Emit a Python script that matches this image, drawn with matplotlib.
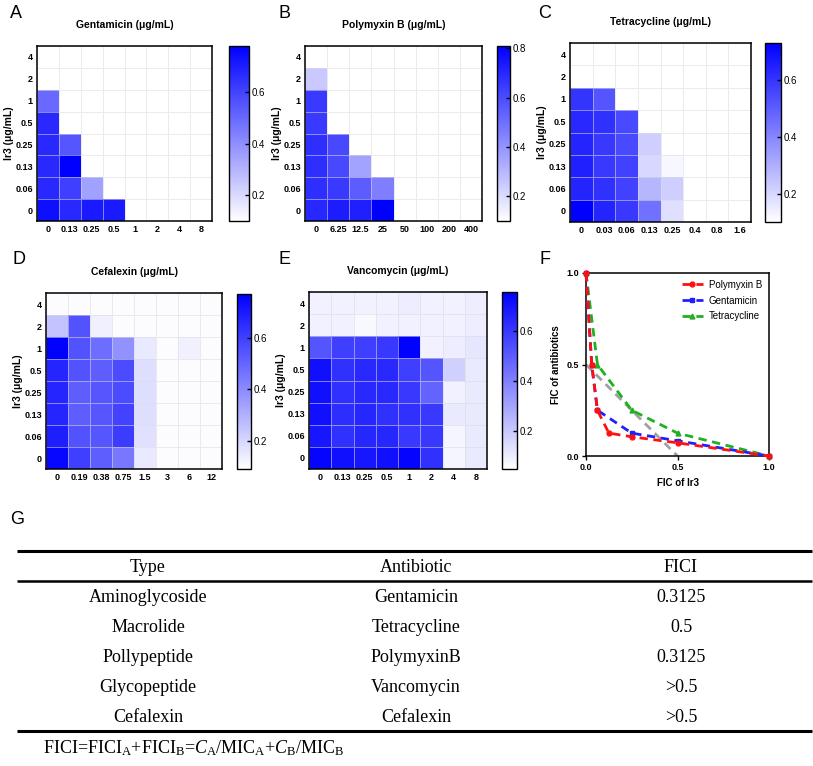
import numpy as np
import matplotlib
matplotlib.use("Agg")
import matplotlib.pyplot as plt
from matplotlib.colors import LinearSegmentedColormap

plt.rcParams['font.family'] = ['Liberation Sans', 'DejaVu Sans']
plt.rcParams['mathtext.fontset'] = 'custom'
plt.rcParams['mathtext.rm'] = 'Liberation Serif'
plt.rcParams['mathtext.it'] = 'Liberation Serif:italic'

W, H = 813, 766

# ---- checkerboard data (rows: Ir3 from 4 down to 0) ----
ir3_labels = ["4", "2", "1", "0.5", "0.25", "0.13", "0.06", "0"]

gent_labels = ["0", "0.13", "0.25", "0.5", "1", "2", "4", "8"]
gent = [
    [0.10, 0.10, 0.10, 0.10, 0.10, 0.10, 0.10, 0.10],
    [0.10, 0.10, 0.10, 0.10, 0.10, 0.10, 0.10, 0.10],
    [0.50, 0.10, 0.10, 0.10, 0.10, 0.10, 0.10, 0.10],
    [0.67, 0.10, 0.10, 0.10, 0.10, 0.10, 0.10, 0.10],
    [0.67, 0.55, 0.10, 0.10, 0.10, 0.10, 0.10, 0.10],
    [0.67, 0.78, 0.10, 0.10, 0.10, 0.10, 0.10, 0.10],
    [0.67, 0.61, 0.35, 0.10, 0.10, 0.10, 0.10, 0.10],
    [0.74, 0.67, 0.71, 0.71, 0.10, 0.10, 0.10, 0.10],
]

poly_labels = ["0", "6.25", "12.5", "25", "50", "100", "200", "400"]
poly = [
    [0.10, 0.10, 0.10, 0.10, 0.10, 0.10, 0.10, 0.10],
    [0.25, 0.10, 0.10, 0.10, 0.10, 0.10, 0.10, 0.10],
    [0.65, 0.10, 0.10, 0.10, 0.10, 0.10, 0.10, 0.10],
    [0.65, 0.10, 0.10, 0.10, 0.10, 0.10, 0.10, 0.10],
    [0.68, 0.61, 0.10, 0.10, 0.10, 0.10, 0.10, 0.10],
    [0.68, 0.61, 0.36, 0.10, 0.10, 0.10, 0.10, 0.10],
    [0.68, 0.65, 0.55, 0.46, 0.10, 0.10, 0.10, 0.10],
    [0.70, 0.73, 0.72, 0.81, 0.10, 0.10, 0.10, 0.10],
]

tetra_labels = ["0", "0.03", "0.06", "0.13", "0.25", "0.4", "0.8", "1.6"]
tetra = [
    [0.10, 0.10, 0.10, 0.10, 0.10, 0.10, 0.10, 0.10],
    [0.10, 0.10, 0.10, 0.10, 0.10, 0.10, 0.10, 0.10],
    [0.60, 0.52, 0.10, 0.10, 0.10, 0.10, 0.10, 0.10],
    [0.63, 0.61, 0.55, 0.10, 0.10, 0.10, 0.10, 0.10],
    [0.64, 0.59, 0.55, 0.22, 0.10, 0.10, 0.10, 0.10],
    [0.65, 0.59, 0.57, 0.20, 0.12, 0.10, 0.10, 0.10],
    [0.64, 0.61, 0.57, 0.28, 0.22, 0.10, 0.10, 0.10],
    [0.73, 0.64, 0.59, 0.45, 0.18, 0.10, 0.10, 0.10],
]

cefa_labels = ["0", "0.19", "0.38", "0.75", "1.5", "3", "6", "12"]
cefa = [
    [0.10, 0.10, 0.10, 0.10, 0.10, 0.10, 0.10, 0.10],
    [0.25, 0.55, 0.13, 0.10, 0.10, 0.10, 0.10, 0.10],
    [0.77, 0.55, 0.48, 0.38, 0.15, 0.10, 0.13, 0.10],
    [0.67, 0.55, 0.52, 0.57, 0.18, 0.10, 0.10, 0.10],
    [0.67, 0.52, 0.54, 0.57, 0.18, 0.10, 0.10, 0.10],
    [0.67, 0.52, 0.54, 0.59, 0.18, 0.10, 0.10, 0.10],
    [0.69, 0.55, 0.54, 0.61, 0.17, 0.10, 0.10, 0.10],
    [0.75, 0.60, 0.52, 0.45, 0.15, 0.10, 0.10, 0.10],
]

vanc_labels = ["0", "0.13", "0.25", "0.5", "1", "2", "4", "8"]
vanc = [
    [0.09, 0.09, 0.09, 0.09, 0.10, 0.09, 0.09, 0.10],
    [0.09, 0.09, 0.07, 0.09, 0.09, 0.09, 0.09, 0.10],
    [0.52, 0.58, 0.58, 0.60, 0.75, 0.09, 0.10, 0.12],
    [0.71, 0.62, 0.64, 0.64, 0.58, 0.52, 0.18, 0.11],
    [0.71, 0.62, 0.64, 0.64, 0.60, 0.48, 0.09, 0.11],
    [0.71, 0.63, 0.65, 0.62, 0.62, 0.60, 0.11, 0.11],
    [0.69, 0.62, 0.65, 0.65, 0.60, 0.60, 0.08, 0.11],
    [0.74, 0.71, 0.69, 0.71, 0.74, 0.62, 0.08, 0.11],
]

# ---- FIC isobologram ----
poly_fic_x = [0, 0.03125, 0.0625, 0.125, 0.25, 0.5, 1.0]
poly_fic_y = [1.0, 0.5, 0.25, 0.125, 0.105, 0.072, 0.0]
gent_fic_x = [0, 0.03125, 0.0625, 0.25, 0.5, 1.0]
gent_fic_y = [1.0, 0.5, 0.25, 0.125, 0.083, 0.0]
tetra_fic_x = [0, 0.0625, 0.25, 0.5, 1.0]
tetra_fic_y = [1.0, 0.5, 0.25, 0.125, 0.0]
additive_x = [0, 0.5]
additive_y = [0.5, 0.0]

# ---- table ----
table_header = ["Type", "Antibiotic", "FICI"]
table_types = ["Aminoglycoside", "Macrolide", "Pollypeptide", "Glycopeptide", "Cefalexin"]
table_abx = ["Gentamicin", "Tetracycline", "PolymyxinB", "Vancomycin", "Cefalexin"]
table_fici = ["0.3125", "0.5", "0.3125", ">0.5", ">0.5"]

cmap = LinearSegmentedColormap.from_list("wb", ["#ffffff", "#0000ff"])


def box(x0, y0, x1, y1):
    return [x0 / W, 1 - y1 / H, (x1 - x0) / W, (y1 - y0) / H]


def heatmap(fig, axbox, cbox, data, xlabels, title, vmin, vmax, ticks):
    ax = fig.add_axes(box(*axbox))
    cax = fig.add_axes(box(*cbox))
    m = ax.pcolormesh(np.array(data), cmap=cmap, vmin=vmin, vmax=vmax,
                      edgecolors=(0.86, 0.86, 0.88, 0.55), linewidth=0.6)
    ax.set_xlim(0, 8)
    ax.set_ylim(8, 0)
    ax.set_xticks(np.arange(8) + 0.5, xlabels)
    ax.set_yticks(np.arange(8) + 0.5, ir3_labels)
    ax.tick_params(length=0, pad=3, labelsize=6.5)
    for lab in ax.get_xticklabels() + ax.get_yticklabels():
        lab.set_fontweight("bold")
    for s in ax.spines.values():
        s.set_linewidth(1.1)
    ax.set_ylabel("Ir3 (μg/mL)", fontsize=7.5, fontweight="bold", labelpad=1)
    ax.set_title(title, fontsize=7.5, fontweight="bold", pad=13)
    cb = fig.colorbar(m, cax=cax, ticks=ticks)
    cb.outline.set_linewidth(1)
    cax.tick_params(direction="in", length=3, width=1, labelsize=7, pad=2)
    return ax


fig = plt.figure(figsize=(W / 100, H / 100), dpi=100)

heatmap(fig, (37, 46, 212, 221), (229, 46, 249, 221), gent, gent_labels,
        "Gentamicin (μg/mL)", 0.1, 0.78, [0.2, 0.4, 0.6])
heatmap(fig, (305, 46, 482, 221), (497, 46, 510, 221), poly, poly_labels,
        "Polymyxin B (μg/mL)", 0.1, 0.81, [0.2, 0.4, 0.6, 0.8])
heatmap(fig, (570, 43, 751, 222), (765, 43, 781, 222), tetra, tetra_labels,
        "Tetracycline (μg/mL)", 0.1, 0.73, [0.2, 0.4, 0.6])
heatmap(fig, (46, 293, 222, 469), (237, 294, 251, 469), cefa, cefa_labels,
        "Cefalexin (μg/mL)", 0.09, 0.77, [0.2, 0.4, 0.6])
heatmap(fig, (309, 292, 487, 469), (502, 292, 517, 469), vanc, vanc_labels,
        "Vancomycin (μg/mL)", 0.05, 0.755, [0.2, 0.4, 0.6])

# ---- panel F ----
axf = fig.add_axes(box(586, 273, 769, 456))
axf.plot(additive_x, additive_y, color="#a0a0a0", lw=2, ls=(0, (3, 2)))
axf.plot(poly_fic_x, poly_fic_y, color="#ff1010", lw=2, ls=(0, (3, 2)),
         marker="o", ms=3.5, clip_on=False, label="Polymyxin B", zorder=4)
axf.plot(gent_fic_x, gent_fic_y, color="#2020ff", lw=2, ls=(0, (3, 2)),
         marker="s", ms=3.5, clip_on=False, label="Gentamicin", zorder=3)
axf.plot(tetra_fic_x, tetra_fic_y, color="#20b020", lw=2, ls=(0, (3, 2)),
         marker="^", ms=3.5, clip_on=False, label="Tetracycline", zorder=2)
axf.set_xlim(0, 1)
axf.set_ylim(0, 1)
axf.set_xticks([0, 0.5, 1.0])
axf.set_yticks([0, 0.5, 1.0])
axf.xaxis.set_major_formatter(plt.FormatStrFormatter("%.1f"))
axf.yaxis.set_major_formatter(plt.FormatStrFormatter("%.1f"))
axf.tick_params(length=3, width=1, labelsize=6.5, pad=2)
for lab in axf.get_xticklabels() + axf.get_yticklabels():
    lab.set_fontweight("bold")
for s in axf.spines.values():
    s.set_linewidth(1.1)
axf.set_xlabel("FIC of Ir3", fontsize=7, fontweight="bold", labelpad=4)
axf.set_ylabel("FIC of antibiotics", fontsize=7, fontweight="bold", labelpad=4)
axf.legend(loc="upper right", frameon=False, fontsize=7, handlelength=2.2,
           borderaxespad=0.3, labelspacing=0.6, handletextpad=0.6)

# ---- panel letters ----
for letter, (x, y) in zip("ABCDEFG", [(10, 14), (278, 14), (538, 14), (12, 259),
                                     (278, 259), (539, 259), (10, 519)]):
    fig.text(x / W, 1 - y / H, letter, fontsize=13, va="center", ha="left")

# ---- table G ----
tax = fig.add_axes(box(0, 500, 813, 766))
tax.set_xlim(0, W)
tax.set_ylim(766, 500)
tax.axis("off")
col_x = [148, 416, 681]
tax.hlines([551, 731], 17, 812, color="black", lw=2.2)
tax.hlines(581, 17, 812, color="black", lw=1.8)
for cx, h in zip(col_x, table_header):
    tax.text(cx, 567, h, ha="center", va="center", fontsize=13, family="Liberation Serif")
for i, row in enumerate(zip(table_types, table_abx, table_fici)):
    for cx, val in zip(col_x, row):
        tax.text(cx, 597 + 30 * i, val, ha="center", va="center",
                 fontsize=13, family="Liberation Serif")
tax.text(43, 748,
         r"FICI=FICI$_\mathrm{A}$+FICI$_\mathrm{B}$=$C_\mathrm{A}$/MIC$_\mathrm{A}$+$C_\mathrm{B}$/MIC$_\mathrm{B}$",
         ha="left", va="center", fontsize=13, family="Liberation Serif")

fig.savefig("out.png", dpi=100)
